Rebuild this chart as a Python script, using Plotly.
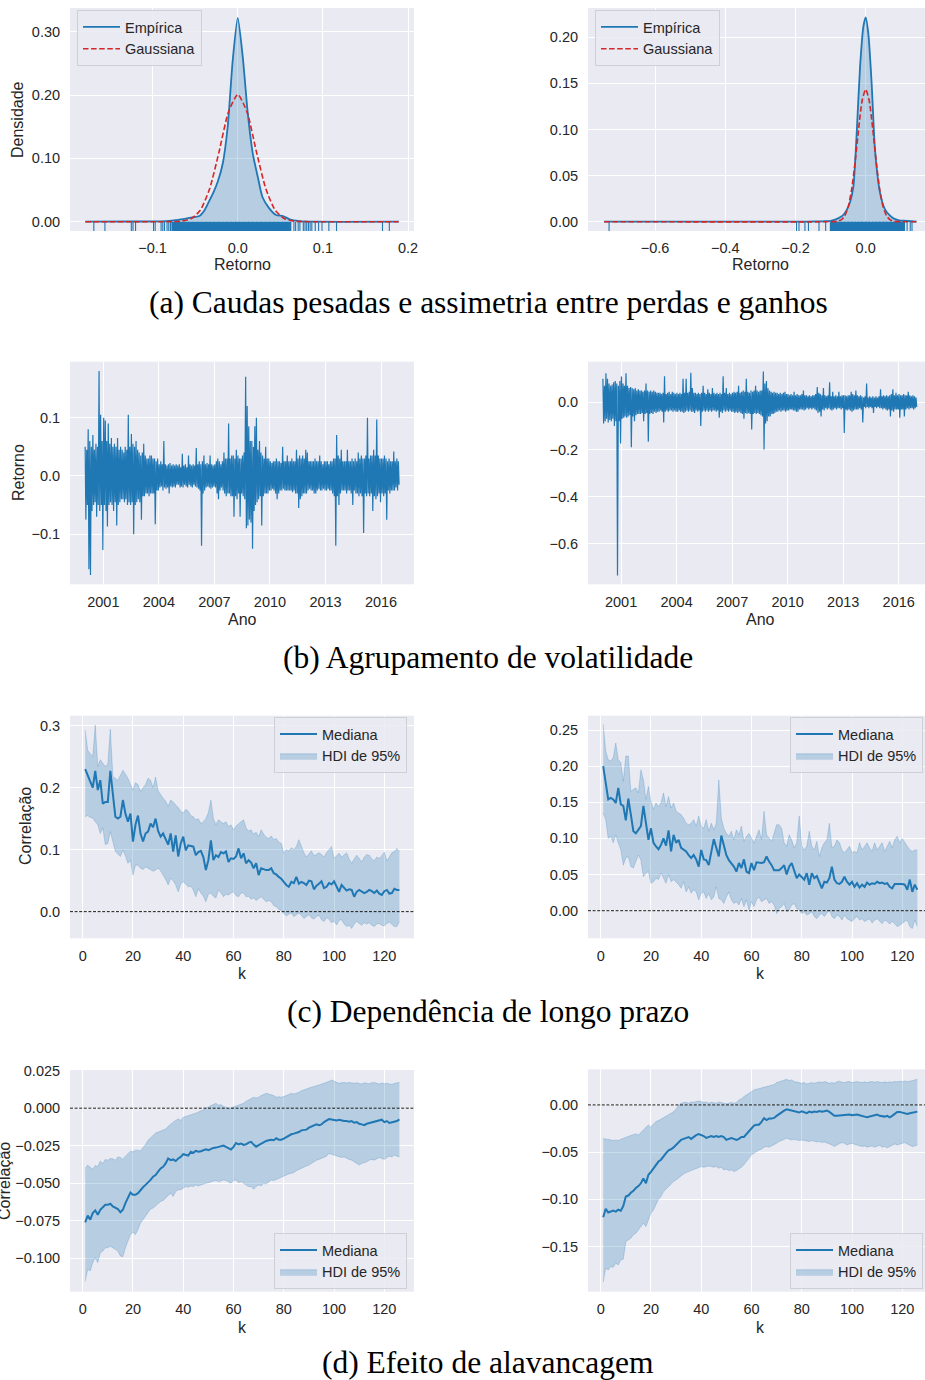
import plotly.graph_objects as go

# ---------------- (a) densities ----------------
kde_left_x = [-0.179, -0.12, -0.084, -0.07, -0.061, -0.053, -0.045, -0.039, -0.033, -0.028, -0.0235,
              -0.0176, -0.0118, -0.0059, 0.0, 0.0059, 0.0118, 0.0176, 0.0235, 0.029, 0.037, 0.045,
              0.053, 0.061, 0.0725, 0.09, 0.189]
kde_left_y = [0.0, 0.0003, 0.001, 0.003, 0.005, 0.007, 0.009, 0.018, 0.034, 0.048, 0.063,
              0.092, 0.150, 0.255, 0.322, 0.260, 0.171, 0.108, 0.071, 0.039, 0.021, 0.0105,
              0.009, 0.0037, 0.001, 0.0, 0.0]
gauss_left_x = [-0.179, -0.09, -0.077, -0.066, -0.055, -0.044, -0.033, -0.022, -0.011, 0.0,
                0.011, 0.022, 0.033, 0.044, 0.055, 0.066, 0.077, 0.09, 0.189]
gauss_left_y = [0.0, 0.0, 0.0001, 0.0009, 0.0046, 0.018, 0.052, 0.110, 0.173, 0.201,
                0.173, 0.110, 0.052, 0.018, 0.0046, 0.0009, 0.0001, 0.0, 0.0]
rug_left_core = [-0.075, -0.07, -0.065, -0.06, -0.055, -0.05, -0.045, -0.04, -0.035, -0.03, -0.025,
                 -0.02, -0.015, -0.01, -0.005, 0.0, 0.005, 0.01, 0.015, 0.02, 0.025, 0.03, 0.035,
                 0.04, 0.045, 0.05, 0.055, 0.06]
rug_left_tail = [-0.169, -0.156, -0.125, -0.123, -0.12, -0.099, -0.097, -0.09, -0.088, -0.086,
                 -0.083, -0.081, -0.079, 0.066, 0.068, 0.071, 0.073, 0.077, 0.079, 0.081, 0.083,
                 0.085, 0.087, 0.091, 0.095, 0.099, 0.107, 0.116, 0.17, 0.178]

kde_right_x = [-0.745, -0.2, -0.12, -0.1, -0.085, -0.073, -0.062, -0.054, -0.044, -0.035, -0.0256,
               -0.016, -0.0066, 0.0, 0.0076, 0.017, 0.0266, 0.041, 0.055, 0.068, 0.079, 0.095,
               0.107, 0.145]
kde_right_y = [0.0, 0.0, 0.0005, 0.001, 0.0025, 0.0047, 0.008, 0.0127, 0.022, 0.038, 0.096,
               0.168, 0.2116, 0.2217, 0.204, 0.150, 0.078, 0.031, 0.0134, 0.007, 0.0036, 0.0015,
               0.001, 0.0]
gauss_right_x = [-0.745, -0.1, -0.08, -0.07, -0.06, -0.05, -0.04, -0.03, -0.02, -0.01, 0.0,
                 0.01, 0.02, 0.03, 0.04, 0.05, 0.06, 0.07, 0.08, 0.1, 0.145]
gauss_right_y = [0.0, 0.0, 0.0005, 0.0019, 0.006, 0.0158, 0.035, 0.065, 0.101, 0.1315, 0.1436,
                 0.1315, 0.101, 0.065, 0.035, 0.0158, 0.006, 0.0019, 0.0005, 0.0, 0.0]
rug_right_core = [-0.095, -0.085, -0.075, -0.065, -0.055, -0.045, -0.035, -0.025, -0.015, -0.005,
                  0.005, 0.015, 0.025, 0.035, 0.045, 0.055, 0.065, 0.075, 0.085, 0.095, 0.105]
rug_right_tail = [-0.731, -0.197, -0.19, -0.173, -0.163, -0.133, -0.114, 0.118, 0.127, 0.132]

# ---------------- (b) returns: monthly high / low, 2000-01 .. 2016-12 ----------------
ret_left_hi = [
    0.05, 0.045, 0.08, 0.06, 0.05, 0.07, 0.045, 0.055, 0.05, 0.18, 0.105, 0.06,
    0.10, 0.095, 0.06, 0.09, 0.055, 0.065, 0.05, 0.055, 0.05, 0.065, 0.045, 0.05,
    0.045, 0.04, 0.05, 0.045, 0.105, 0.05, 0.072, 0.055, 0.05, 0.06, 0.045, 0.04,
    0.035, 0.04, 0.055, 0.035, 0.03, 0.03, 0.035, 0.035, 0.03, 0.03, 0.025, 0.03,
    0.02, 0.025, 0.02, 0.06, 0.02, 0.018, 0.02, 0.022, 0.018, 0.02, 0.018, 0.02,
    0.018, 0.02, 0.015, 0.038, 0.018, 0.02, 0.015, 0.035, 0.02, 0.018, 0.02, 0.018,
    0.048, 0.02, 0.025, 0.02, 0.025, 0.035, 0.02, 0.022, 0.02, 0.035, 0.02, 0.018,
    0.02, 0.025, 0.03, 0.025, 0.02, 0.025, 0.04, 0.03, 0.03, 0.09, 0.03, 0.035,
    0.035, 0.03, 0.045, 0.035, 0.03, 0.03, 0.035, 0.04, 0.17, 0.12, 0.085, 0.06,
    0.06, 0.05, 0.085, 0.10, 0.045, 0.06, 0.04, 0.035, 0.03, 0.05, 0.03, 0.03,
    0.025, 0.022, 0.025, 0.025, 0.03, 0.025, 0.025, 0.022, 0.05, 0.025, 0.025, 0.035,
    0.025, 0.025, 0.03, 0.025, 0.025, 0.045, 0.03, 0.035, 0.03, 0.035, 0.03, 0.045,
    0.04, 0.025, 0.025, 0.025, 0.025, 0.03, 0.025, 0.025, 0.035, 0.025, 0.02, 0.025,
    0.025, 0.025, 0.02, 0.025, 0.025, 0.03, 0.03, 0.07, 0.035, 0.03, 0.045, 0.025,
    0.025, 0.025, 0.045, 0.025, 0.025, 0.03, 0.025, 0.03, 0.025, 0.04, 0.03, 0.035,
    0.03, 0.03, 0.035, 0.10, 0.03, 0.035, 0.035, 0.045, 0.035, 0.097, 0.035, 0.03,
    0.03, 0.03, 0.035, 0.03, 0.025, 0.03, 0.025, 0.025, 0.042, 0.025, 0.03, 0.025,
]
ret_left_lo = [
    -0.075, -0.05, -0.16, -0.17, -0.06, -0.05, -0.045, -0.07, -0.05, -0.06, -0.05, -0.127,
    -0.05, -0.06, -0.087, -0.05, -0.045, -0.05, -0.06, -0.045, -0.085, -0.05, -0.045, -0.04,
    -0.04, -0.045, -0.04, -0.05, -0.045, -0.05, -0.045, -0.10, -0.05, -0.045, -0.04, -0.045,
    -0.075, -0.035, -0.035, -0.03, -0.03, -0.035, -0.03, -0.03, -0.03, -0.083, -0.025, -0.025,
    -0.02, -0.018, -0.025, -0.02, -0.022, -0.02, -0.03, -0.018, -0.02, -0.018, -0.02, -0.015,
    -0.015, -0.02, -0.018, -0.02, -0.015, -0.018, -0.02, -0.015, -0.018, -0.02, -0.015, -0.018,
    -0.02, -0.022, -0.025, -0.12, -0.03, -0.025, -0.02, -0.018, -0.02, -0.022, -0.02, -0.018,
    -0.02, -0.03, -0.04, -0.025, -0.02, -0.025, -0.03, -0.035, -0.03, -0.03, -0.035, -0.035,
    -0.07, -0.035, -0.04, -0.03, -0.07, -0.03, -0.035, -0.04, -0.09, -0.085, -0.075, -0.08,
    -0.125, -0.06, -0.05, -0.045, -0.04, -0.035, -0.085, -0.035, -0.03, -0.03, -0.03, -0.025,
    -0.025, -0.022, -0.025, -0.03, -0.04, -0.03, -0.025, -0.025, -0.022, -0.025, -0.025, -0.025,
    -0.025, -0.025, -0.028, -0.025, -0.03, -0.03, -0.055, -0.04, -0.035, -0.03, -0.03, -0.03,
    -0.025, -0.022, -0.025, -0.025, -0.03, -0.03, -0.025, -0.022, -0.025, -0.025, -0.022, -0.025,
    -0.025, -0.022, -0.025, -0.025, -0.03, -0.035, -0.12, -0.035, -0.05, -0.03, -0.025, -0.025,
    -0.025, -0.03, -0.025, -0.025, -0.03, -0.05, -0.025, -0.03, -0.03, -0.035, -0.03, -0.035,
    -0.098, -0.03, -0.035, -0.03, -0.035, -0.03, -0.06, -0.035, -0.04, -0.035, -0.03, -0.045,
    -0.03, -0.035, -0.03, -0.075, -0.025, -0.03, -0.025, -0.025, -0.025, -0.02, -0.025, -0.015,
]
ret_right_hi = [
    0.10, 0.07, 0.123, 0.10, 0.08, 0.07, 0.075, 0.085, 0.09, 0.08, 0.07, 0.09,
    0.109, 0.08, 0.07, 0.123, 0.07, 0.06, 0.065, 0.06, 0.055, 0.06, 0.05, 0.055,
    0.05, 0.05, 0.045, 0.05, 0.08, 0.05, 0.045, 0.05, 0.045, 0.05, 0.045, 0.04,
    0.04, 0.04, 0.035, 0.04, 0.11, 0.035, 0.04, 0.045, 0.035, 0.045, 0.04, 0.035,
    0.04, 0.035, 0.04, 0.035, 0.10, 0.04, 0.10, 0.04, 0.045, 0.125, 0.06, 0.04,
    0.04, 0.035, 0.04, 0.035, 0.04, 0.07, 0.04, 0.035, 0.055, 0.04, 0.035, 0.06,
    0.04, 0.035, 0.04, 0.035, 0.04, 0.035, 0.11, 0.04, 0.06, 0.035, 0.04, 0.035,
    0.04, 0.045, 0.04, 0.045, 0.07, 0.04, 0.045, 0.05, 0.045, 0.10, 0.045, 0.04,
    0.05, 0.045, 0.05, 0.07, 0.05, 0.045, 0.05, 0.05, 0.13, 0.08, 0.09, 0.06,
    0.05, 0.045, 0.04, 0.045, 0.04, 0.04, 0.035, 0.04, 0.035, 0.04, 0.045, 0.035,
    0.035, 0.03, 0.035, 0.03, 0.045, 0.03, 0.035, 0.03, 0.03, 0.035, 0.05, 0.03,
    0.03, 0.025, 0.03, 0.025, 0.03, 0.03, 0.035, 0.065, 0.04, 0.035, 0.03, 0.06,
    0.03, 0.025, 0.03, 0.085, 0.025, 0.045, 0.025, 0.03, 0.025, 0.045, 0.025, 0.03,
    0.03, 0.03, 0.025, 0.03, 0.03, 0.045, 0.035, 0.03, 0.05, 0.03, 0.025, 0.03,
    0.025, 0.02, 0.025, 0.08, 0.02, 0.025, 0.02, 0.025, 0.02, 0.025, 0.02, 0.025,
    0.055, 0.025, 0.03, 0.025, 0.03, 0.025, 0.03, 0.035, 0.055, 0.03, 0.04, 0.03,
    0.035, 0.03, 0.03, 0.035, 0.03, 0.03, 0.045, 0.03, 0.025, 0.03, 0.025, 0.02,
]
ret_right_lo = [
    -0.09, -0.08, -0.07, -0.085, -0.075, -0.08, -0.07, -0.10, -0.08, -0.734, -0.08, -0.174,
    -0.07, -0.065, -0.06, -0.065, -0.06, -0.055, -0.19, -0.06, -0.08, -0.055, -0.05, -0.05,
    -0.05, -0.045, -0.08, -0.05, -0.045, -0.167, -0.05, -0.045, -0.05, -0.04, -0.045, -0.04,
    -0.04, -0.035, -0.04, -0.085, -0.04, -0.035, -0.04, -0.035, -0.035, -0.04, -0.035, -0.04,
    -0.04, -0.035, -0.04, -0.04, -0.045, -0.04, -0.035, -0.04, -0.035, -0.04, -0.04, -0.045,
    -0.035, -0.04, -0.035, -0.10, -0.04, -0.035, -0.04, -0.035, -0.04, -0.035, -0.04, -0.035,
    -0.035, -0.04, -0.035, -0.065, -0.04, -0.045, -0.035, -0.04, -0.035, -0.04, -0.035, -0.04,
    -0.04, -0.045, -0.04, -0.045, -0.04, -0.045, -0.05, -0.07, -0.045, -0.05, -0.045, -0.05,
    -0.115, -0.05, -0.045, -0.05, -0.045, -0.05, -0.055, -0.06, -0.20, -0.09, -0.08, -0.06,
    -0.06, -0.05, -0.05, -0.045, -0.04, -0.04, -0.035, -0.04, -0.035, -0.035, -0.04, -0.035,
    -0.035, -0.03, -0.03, -0.035, -0.035, -0.04, -0.04, -0.03, -0.03, -0.03, -0.035, -0.03,
    -0.025, -0.03, -0.025, -0.03, -0.025, -0.03, -0.035, -0.045, -0.04, -0.06, -0.03, -0.035,
    -0.025, -0.03, -0.025, -0.03, -0.035, -0.03, -0.025, -0.03, -0.025, -0.025, -0.03, -0.025,
    -0.13, -0.03, -0.035, -0.03, -0.035, -0.04, -0.035, -0.03, -0.03, -0.03, -0.025, -0.03,
    -0.085, -0.02, -0.025, -0.02, -0.025, -0.02, -0.025, -0.045, -0.02, -0.025, -0.02, -0.025,
    -0.025, -0.03, -0.025, -0.03, -0.035, -0.03, -0.06, -0.035, -0.04, -0.03, -0.03, -0.03,
    -0.065, -0.03, -0.03, -0.06, -0.03, -0.025, -0.03, -0.025, -0.025, -0.03, -0.025, -0.02,
]
first_year = 2000

# ---------------- (c) long-range dependence, k = 1..126 ----------------
lags = list(range(1, 127))
c_left_med = [0.230, 0.220, 0.208, 0.200, 0.227, 0.196, 0.212, 0.174, 0.177, 0.177, 0.227, 0.185, 0.153, 0.150, 0.153, 0.180, 0.158, 0.145, 0.158, 0.113,
              0.140, 0.155, 0.126, 0.113, 0.126, 0.129, 0.142, 0.136, 0.150, 0.130, 0.121, 0.126, 0.116, 0.108, 0.126, 0.097, 0.123, 0.089, 0.110, 0.121,
              0.099, 0.107, 0.106, 0.105, 0.091, 0.096, 0.098, 0.088, 0.067, 0.083, 0.115, 0.083, 0.091, 0.088, 0.096, 0.094, 0.097, 0.080, 0.086, 0.085,
              0.089, 0.102, 0.086, 0.094, 0.078, 0.083, 0.079, 0.070, 0.078, 0.059, 0.070, 0.068, 0.067, 0.067, 0.070, 0.062, 0.060, 0.056, 0.053, 0.048,
              0.043, 0.040, 0.048, 0.046, 0.056, 0.045, 0.048, 0.046, 0.043, 0.050, 0.049, 0.036, 0.042, 0.045, 0.049, 0.038, 0.040, 0.046, 0.044, 0.049,
              0.040, 0.032, 0.043, 0.038, 0.034, 0.036, 0.035, 0.024, 0.032, 0.035, 0.033, 0.030, 0.032, 0.035, 0.033, 0.030, 0.034, 0.029, 0.027, 0.033,
              0.035, 0.029, 0.030, 0.037, 0.035, 0.035]
c_left_hi = [0.293, 0.260, 0.255, 0.250, 0.301, 0.234, 0.245, 0.240, 0.234, 0.238, 0.294, 0.218, 0.215, 0.212, 0.220, 0.228, 0.222, 0.215, 0.205, 0.196,
             0.208, 0.205, 0.194, 0.200, 0.205, 0.215, 0.212, 0.200, 0.217, 0.195, 0.188, 0.183, 0.178, 0.170, 0.180, 0.177, 0.172, 0.168, 0.162, 0.159,
             0.165, 0.162, 0.155, 0.153, 0.148, 0.150, 0.142, 0.145, 0.150, 0.160, 0.180, 0.150, 0.140, 0.148, 0.145, 0.142, 0.145, 0.137, 0.140, 0.132,
             0.138, 0.142, 0.145, 0.148, 0.135, 0.130, 0.132, 0.125, 0.128, 0.121, 0.132, 0.125, 0.120, 0.118, 0.122, 0.116, 0.118, 0.112, 0.110, 0.094,
             0.100, 0.098, 0.103, 0.100, 0.105, 0.116, 0.105, 0.095, 0.088, 0.094, 0.098, 0.090, 0.092, 0.095, 0.092, 0.088, 0.095, 0.100, 0.105, 0.086,
             0.090, 0.094, 0.088, 0.092, 0.095, 0.085, 0.078, 0.085, 0.091, 0.086, 0.080, 0.088, 0.092, 0.091, 0.085, 0.082, 0.088, 0.086, 0.090, 0.096,
             0.082, 0.088, 0.095, 0.097, 0.102, 0.097]
c_left_lo = [0.153, 0.155, 0.152, 0.151, 0.145, 0.140, 0.126, 0.135, 0.108, 0.110, 0.129, 0.115, 0.097, 0.093, 0.089, 0.099, 0.090, 0.078, 0.083, 0.059,
             0.075, 0.075, 0.070, 0.068, 0.072, 0.070, 0.068, 0.065, 0.067, 0.070, 0.066, 0.060, 0.052, 0.043, 0.054, 0.050, 0.043, 0.032, 0.045, 0.048,
             0.044, 0.040, 0.041, 0.035, 0.024, 0.037, 0.030, 0.025, 0.016, 0.028, 0.030, 0.025, 0.022, 0.035, 0.030, 0.024, 0.028, 0.027, 0.030, 0.032,
             0.026, 0.024, 0.030, 0.030, 0.024, 0.025, 0.020, 0.022, 0.018, 0.021, 0.024, 0.020, 0.016, 0.018, 0.016, 0.010, 0.008, 0.004, 0.002, -0.003,
             -0.007, -0.004, -0.002, -0.008, -0.005, -0.002, -0.006, -0.011, -0.008, -0.005, -0.010, -0.012, -0.008, -0.006, -0.013, -0.016, -0.010, -0.012, -0.018, -0.015,
             -0.0215, -0.014, -0.013, -0.020, -0.024, -0.022, -0.027, -0.020, -0.016, -0.019, -0.022, -0.018, -0.020, -0.018, -0.022, -0.024, -0.020, -0.019, -0.022, -0.023,
             -0.019, -0.017, -0.021, -0.024, -0.024, -0.016]
c_right_med = [0.200, 0.177, 0.154, 0.156, 0.154, 0.149, 0.170, 0.147, 0.145, 0.125, 0.155, 0.133, 0.110, 0.107, 0.112, 0.117, 0.145, 0.121, 0.098, 0.114,
               0.094, 0.089, 0.085, 0.091, 0.100, 0.090, 0.111, 0.082, 0.105, 0.094, 0.098, 0.087, 0.084, 0.082, 0.077, 0.073, 0.077, 0.071, 0.061, 0.084,
               0.071, 0.070, 0.063, 0.082, 0.099, 0.087, 0.075, 0.104, 0.089, 0.077, 0.070, 0.066, 0.061, 0.054, 0.066, 0.059, 0.071, 0.054, 0.052, 0.066,
               0.056, 0.067, 0.066, 0.066, 0.067, 0.075, 0.068, 0.063, 0.056, 0.056, 0.056, 0.059, 0.063, 0.050, 0.061, 0.066, 0.056, 0.045, 0.050, 0.047,
               0.043, 0.052, 0.036, 0.052, 0.045, 0.048, 0.038, 0.031, 0.040, 0.039, 0.045, 0.061, 0.043, 0.038, 0.037, 0.040, 0.047, 0.040, 0.036, 0.040,
               0.033, 0.038, 0.032, 0.036, 0.033, 0.039, 0.036, 0.038, 0.037, 0.040, 0.038, 0.039, 0.037, 0.038, 0.033, 0.031, 0.037, 0.037, 0.038, 0.037,
               0.036, 0.029, 0.043, 0.026, 0.036, 0.029]
c_right_hi = [0.258, 0.221, 0.209, 0.207, 0.212, 0.232, 0.209, 0.205, 0.179, 0.214, 0.214, 0.165, 0.168, 0.170, 0.163, 0.195, 0.181, 0.154, 0.172, 0.151,
              0.140, 0.149, 0.144, 0.149, 0.163, 0.144, 0.158, 0.142, 0.149, 0.138, 0.135, 0.133, 0.128, 0.121, 0.119, 0.121, 0.126, 0.117, 0.131, 0.117,
              0.114, 0.126, 0.110, 0.121, 0.112, 0.121, 0.181, 0.128, 0.114, 0.107, 0.103, 0.110, 0.098, 0.112, 0.105, 0.117, 0.096, 0.103, 0.107, 0.100,
              0.094, 0.103, 0.112, 0.098, 0.1375, 0.105, 0.100, 0.096, 0.107, 0.119, 0.119, 0.114, 0.094, 0.089, 0.105, 0.098, 0.087, 0.094, 0.131, 0.089,
              0.084, 0.089, 0.110, 0.089, 0.084, 0.096, 0.075, 0.087, 0.094, 0.098, 0.121, 0.087, 0.089, 0.098, 0.094, 0.084, 0.080, 0.084, 0.089, 0.080,
              0.082, 0.080, 0.094, 0.084, 0.089, 0.094, 0.087, 0.082, 0.094, 0.084, 0.089, 0.094, 0.082, 0.089, 0.096, 0.087, 0.098, 0.103, 0.094, 0.100,
              0.094, 0.089, 0.084, 0.082, 0.084, 0.084]
c_right_lo = [0.135, 0.126, 0.100, 0.103, 0.094, 0.105, 0.094, 0.084, 0.063, 0.073, 0.075, 0.061, 0.059, 0.068, 0.077, 0.070, 0.047, 0.052, 0.054, 0.038,
              0.040, 0.045, 0.043, 0.052, 0.045, 0.038, 0.050, 0.040, 0.043, 0.040, 0.036, 0.031, 0.040, 0.026, 0.033, 0.024, 0.029, 0.026, 0.015, 0.024,
              0.026, 0.017, 0.024, 0.015, 0.019, 0.033, 0.017, 0.015, 0.010, 0.019, 0.026, 0.015, 0.010, 0.0125, 0.008, 0.017, 0.0056, 0.015, 0.001, 0.0125,
              0.0056, 0.015, 0.019, 0.0125, 0.015, 0.017, 0.010, 0.0125, 0.008, -0.004, 0.003, 0.0056, 0.010, -0.0014, 0.001, 0.008, 0.010, 0.003, 0.001, -0.004,
              -0.0014, -0.006, -0.004, -0.0014, -0.008, -0.011, -0.006, -0.004, -0.008, -0.004, 0.001, -0.008, -0.011, -0.006, -0.008, -0.013, -0.006, -0.011, -0.013, -0.015,
              -0.011, -0.008, -0.013, -0.011, -0.015, -0.013, -0.011, -0.017, -0.013, -0.011, -0.015, -0.018, -0.013, -0.015, -0.0185, -0.015, -0.018, -0.022, -0.020, -0.017,
              -0.015, -0.013, -0.022, -0.0245, -0.013, -0.022]

# ---------------- (d) leverage effect, k = 1..126 ----------------
d_left_med = [-0.0762, -0.0717, -0.0744, -0.0700, -0.0682, -0.0711, -0.0678, -0.0662, -0.0645, -0.0645, -0.0638, -0.0656, -0.0667, -0.0673, -0.0695, -0.0678, -0.0634, -0.0600, -0.0563, -0.0578,
              -0.0578, -0.0567, -0.0545, -0.0528, -0.0512, -0.0497, -0.0479, -0.0457, -0.0446, -0.0424, -0.0402, -0.0391, -0.0369, -0.0336, -0.0347, -0.0342, -0.0353, -0.0336, -0.0325, -0.0307,
              -0.0313, -0.0316, -0.0291, -0.0298, -0.0285, -0.0291, -0.0287, -0.0280, -0.0274, -0.0280, -0.0272, -0.0265, -0.0263, -0.0258, -0.0258, -0.0249, -0.0258, -0.0269, -0.0276, -0.0258,
              -0.0232, -0.0241, -0.0236, -0.0245, -0.0241, -0.0230, -0.0225, -0.0243, -0.0258, -0.0247, -0.0236, -0.0225, -0.0219, -0.0214, -0.0210, -0.0214, -0.0201, -0.0210, -0.0210, -0.0203,
              -0.0192, -0.0181, -0.0174, -0.0170, -0.0166, -0.0159, -0.0148, -0.0148, -0.0143, -0.0130, -0.0121, -0.0113, -0.0108, -0.0113, -0.0108, -0.0093, -0.0082, -0.0073, -0.0075, -0.0077,
              -0.0082, -0.0077, -0.0082, -0.0086, -0.0086, -0.0091, -0.0086, -0.0097, -0.0093, -0.0104, -0.0108, -0.0113, -0.0104, -0.0099, -0.0095, -0.0091, -0.0086, -0.0082, -0.0077, -0.0093,
              -0.0086, -0.0099, -0.0095, -0.0093, -0.0086, -0.0075]
d_left_hi = [-0.0402, -0.0380, -0.0395, -0.0408, -0.0382, -0.0391, -0.0353, -0.0369, -0.0342, -0.0347, -0.0336, -0.0338, -0.0347, -0.0325, -0.0329, -0.0342, -0.0320, -0.0302, -0.0287, -0.0291,
             -0.0280, -0.0280, -0.0285, -0.0263, -0.0243, -0.0214, -0.0196, -0.0181, -0.0166, -0.0159, -0.0152, -0.0148, -0.0139, -0.0121, -0.0104, -0.0093, -0.0082, -0.0071, -0.0082, -0.0060,
             -0.0055, -0.0051, -0.0042, -0.0038, -0.0033, -0.0026, -0.0020, -0.0011, 0.0002, 0.0007, 0.0018, 0.0024, 0.0033, 0.0020, 0.0024, 0.0011, 0.0007, -0.0004, 0.0002, 0.0007,
             0.0018, 0.0024, 0.0029, 0.0033, 0.0046, 0.0055, 0.0062, 0.0073, 0.0068, 0.0073, 0.0084, 0.0091, 0.0099, 0.0095, 0.0091, 0.0084, 0.0073, 0.0077, 0.0073, 0.0077,
             0.0084, 0.0091, 0.0099, 0.0095, 0.0099, 0.0106, 0.0117, 0.0121, 0.0128, 0.0135, 0.0139, 0.0143, 0.0150, 0.0155, 0.0161, 0.0166, 0.0172, 0.0179, 0.0188, 0.0179,
             0.0172, 0.0166, 0.0170, 0.0172, 0.0168, 0.0172, 0.0170, 0.0166, 0.0170, 0.0168, 0.0161, 0.0170, 0.0168, 0.0163, 0.0170, 0.0172, 0.0166, 0.0161, 0.0168, 0.0163,
             0.0166, 0.0161, 0.0159, 0.0166, 0.0168, 0.0172]
d_left_lo = [-0.1157, -0.1075, -0.1086, -0.1031, -0.0998, -0.1031, -0.0965, -0.0954, -0.0932, -0.0932, -0.0921, -0.0932, -0.0943, -0.0954, -0.0987, -0.0991, -0.0932, -0.0887, -0.0843, -0.0828,
             -0.0843, -0.0810, -0.0766, -0.0744, -0.0722, -0.0700, -0.0673, -0.0667, -0.0651, -0.0634, -0.0623, -0.0616, -0.0600, -0.0585, -0.0567, -0.0589, -0.0556, -0.0545, -0.0545, -0.0534,
             -0.0523, -0.0528, -0.0519, -0.0523, -0.0512, -0.0519, -0.0512, -0.0506, -0.0501, -0.0497, -0.0490, -0.0486, -0.0483, -0.0490, -0.0486, -0.0479, -0.0483, -0.0490, -0.0501, -0.0483,
             -0.0479, -0.0497, -0.0490, -0.0501, -0.0512, -0.0523, -0.0523, -0.0541, -0.0523, -0.0512, -0.0519, -0.0501, -0.0506, -0.0490, -0.0479, -0.0483, -0.0475, -0.0468, -0.0461, -0.0453,
             -0.0446, -0.0439, -0.0435, -0.0430, -0.0417, -0.0408, -0.0402, -0.0395, -0.0386, -0.0380, -0.0369, -0.0358, -0.0347, -0.0342, -0.0336, -0.0329, -0.0320, -0.0302, -0.0307, -0.0313,
             -0.0320, -0.0325, -0.0329, -0.0325, -0.0336, -0.0342, -0.0347, -0.0358, -0.0369, -0.0380, -0.0369, -0.0364, -0.0358, -0.0347, -0.0342, -0.0347, -0.0336, -0.0329, -0.0336, -0.0342,
             -0.0329, -0.0320, -0.0325, -0.0313, -0.0320, -0.0325]
d_right_med = [-0.119, -0.110, -0.114, -0.113, -0.112, -0.113, -0.111, -0.112, -0.107, -0.097, -0.096, -0.093, -0.091, -0.088, -0.086, -0.083, -0.078, -0.083, -0.074, -0.071,
               -0.067, -0.064, -0.060, -0.058, -0.054, -0.051, -0.048, -0.047, -0.045, -0.042, -0.039, -0.037, -0.036, -0.035, -0.034, -0.036, -0.034, -0.032, -0.031, -0.032,
               -0.033, -0.035, -0.034, -0.033, -0.034, -0.033, -0.034, -0.033, -0.034, -0.037, -0.036, -0.035, -0.036, -0.037, -0.036, -0.034, -0.034, -0.031, -0.028, -0.026,
               -0.022, -0.021, -0.021, -0.018, -0.014, -0.016, -0.0145, -0.0145, -0.0138, -0.0116, -0.0095, -0.0074, -0.0060, -0.0046, -0.0053, -0.0060, -0.0067, -0.0074, -0.0081, -0.0067,
               -0.0074, -0.0088, -0.0071, -0.0081, -0.0071, -0.0074, -0.0064, -0.0071, -0.0067, -0.0060, -0.0074, -0.0095, -0.0116, -0.0116, -0.0113, -0.0116, -0.0106, -0.0109, -0.0102, -0.0109,
               -0.0106, -0.0102, -0.0109, -0.0113, -0.0124, -0.0131, -0.0124, -0.0116, -0.0109, -0.0102, -0.0116, -0.0124, -0.0124, -0.0116, -0.0131, -0.0116, -0.0095, -0.0074, -0.0074, -0.0081,
               -0.0088, -0.0095, -0.0088, -0.0081, -0.0081, -0.0071]
d_right_hi = [-0.0353, -0.0364, -0.0364, -0.0371, -0.0378, -0.0371, -0.0378, -0.0364, -0.0353, -0.0349, -0.0335, -0.0328, -0.0314, -0.0307, -0.0318, -0.0293, -0.0258, -0.0236, -0.0212, -0.0236,
              -0.0201, -0.0176, -0.0166, -0.0152, -0.0131, -0.0116, -0.0106, -0.0088, -0.0071, -0.0046, 0.0000, 0.0018, 0.0025, 0.0028, 0.0018, 0.0032, 0.0028, 0.0035, 0.0042, 0.0035,
              0.0025, 0.0032, 0.0018, 0.0028, 0.0025, 0.0018, 0.0032, 0.0028, 0.0018, 0.0011, 0.0018, 0.0025, 0.0018, 0.0025, 0.0053, 0.0064, 0.0088, 0.0106, 0.0131, 0.0145,
              0.0159, 0.0166, 0.0173, 0.0176, 0.0187, 0.0194, 0.0201, 0.0205, 0.0215, 0.0236, 0.0247, 0.0258, 0.0265, 0.0272, 0.0258, 0.0265, 0.0247, 0.0244, 0.0236, 0.0229,
              0.0236, 0.0222, 0.0229, 0.0236, 0.0229, 0.0236, 0.0244, 0.0236, 0.0247, 0.0240, 0.0229, 0.0236, 0.0229, 0.0244, 0.0251, 0.0240, 0.0236, 0.0244, 0.0247, 0.0236,
              0.0244, 0.0247, 0.0240, 0.0236, 0.0244, 0.0236, 0.0244, 0.0247, 0.0240, 0.0247, 0.0240, 0.0236, 0.0244, 0.0236, 0.0244, 0.0240, 0.0247, 0.0244, 0.0251, 0.0247,
              0.0254, 0.0247, 0.0251, 0.0258, 0.0265, 0.0272]
d_right_lo = [-0.1878, -0.1730, -0.1747, -0.1712, -0.1719, -0.1677, -0.1694, -0.1641, -0.1634, -0.1447, -0.1430, -0.1412, -0.1377, -0.1359, -0.1324, -0.1288, -0.1253, -0.1288, -0.1218, -0.1147,
              -0.1112, -0.1048, -0.0999, -0.0971, -0.0918, -0.0893, -0.0865, -0.0837, -0.0812, -0.0794, -0.0770, -0.0752, -0.0731, -0.0717, -0.0706, -0.0695, -0.0681, -0.0671, -0.0660, -0.0653,
              -0.0660, -0.0653, -0.0646, -0.0653, -0.0660, -0.0653, -0.0671, -0.0660, -0.0688, -0.0681, -0.0695, -0.0688, -0.0706, -0.0695, -0.0681, -0.0660, -0.0635, -0.0600, -0.0565, -0.0529,
              -0.0512, -0.0494, -0.0477, -0.0469, -0.0448, -0.0441, -0.0448, -0.0434, -0.0424, -0.0406, -0.0388, -0.0378, -0.0364, -0.0353, -0.0364, -0.0371, -0.0364, -0.0371, -0.0378, -0.0371,
              -0.0378, -0.0385, -0.0388, -0.0378, -0.0385, -0.0392, -0.0388, -0.0399, -0.0392, -0.0399, -0.0413, -0.0424, -0.0441, -0.0424, -0.0413, -0.0399, -0.0406, -0.0424, -0.0413, -0.0406,
              -0.0417, -0.0424, -0.0434, -0.0441, -0.0434, -0.0448, -0.0441, -0.0434, -0.0448, -0.0441, -0.0427, -0.0448, -0.0441, -0.0455, -0.0441, -0.0427, -0.0413, -0.0424, -0.0413, -0.0406,
              -0.0399, -0.0413, -0.0424, -0.0441, -0.0434, -0.0424]

# ---------------- axes: ranges and ticks ----------------
a_left_xr, a_left_yr = [-0.197, 0.207], [-0.0147, 0.3376]
a_left_xt, a_left_xl = [-0.1, 0.0, 0.1, 0.2], ["\u22120.1", "0.0", "0.1", "0.2"]
a_left_yt, a_left_yl = [0.0, 0.1, 0.2, 0.3], ["0.00", "0.10", "0.20", "0.30"]
a_right_xr, a_right_yr = [-0.791, 0.169], [-0.0101, 0.2318]
a_right_xt, a_right_xl = [-0.6, -0.4, -0.2, 0.0], ["\u22120.6", "\u22120.4", "\u22120.2", "0.0"]
a_right_yt, a_right_yl = [0.0, 0.05, 0.10, 0.15, 0.20], ["0.00", "0.05", "0.10", "0.15", "0.20"]
year_ticks = ["2001-01-01", "2004-01-01", "2007-01-01", "2010-01-01", "2013-01-01", "2016-01-01"]
year_labels = ["2001", "2004", "2007", "2010", "2013", "2016"]
b_left_xr, b_left_yr = ["1999-03-15", "2017-10-12"], [-0.186, 0.196]
b_left_yt, b_left_yl = [-0.1, 0.0, 0.1], ["\u22120.1", "0.0", "0.1"]
b_right_xr, b_right_yr = ["1999-03-20", "2017-06-03"], [-0.771, 0.172]
b_right_yt, b_right_yl = [-0.6, -0.4, -0.2, 0.0], ["\u22120.6", "\u22120.4", "\u22120.2", "0.0"]
k_ticks = [0, 20, 40, 60, 80, 100, 120]
k_labels = ["0", "20", "40", "60", "80", "100", "120"]
c_left_xr, c_left_yr = [-5.05, 131.8], [-0.043, 0.316]
c_left_yt, c_left_yl = [0.0, 0.1, 0.2, 0.3], ["0.0", "0.1", "0.2", "0.3"]
c_right_xr, c_right_yr = [-5.05, 129.05], [-0.0382, 0.2698]
c_right_yt, c_right_yl = [0.0, 0.05, 0.10, 0.15, 0.20, 0.25], ["0.00", "0.05", "0.10", "0.15", "0.20", "0.25"]
d_left_xr, d_left_yr = [-5.05, 131.8], [-0.1225, 0.0255]
d_left_yt = [-0.1, -0.075, -0.05, -0.025, 0.0, 0.025]
d_left_yl = ["\u22120.100", "\u22120.075", "\u22120.050", "\u22120.025", "0.000", "0.025"]
d_right_xr, d_right_yr = [-5.05, 129.05], [-0.1978, 0.0377]
d_right_yt, d_right_yl = [-0.15, -0.10, -0.05, 0.0], ["\u22120.15", "\u22120.10", "\u22120.05", "0.00"]

# ---------------- style ----------------
SANS = "Liberation Sans, Arial, Helvetica, sans-serif"
SERIF = "Liberation Serif, Times New Roman, serif"
BLUE = "#1f77b4"
RED = "#d62728"
FILL = "rgba(31,119,180,0.25)"
EDGE = "rgba(31,119,180,0.22)"
BG = "#EAEAF2"
TXT = "#262626"
W, H = 925, 1380


def fxp(p):
    return p / W


def fyp(p):
    return 1 - p / H


fig = go.Figure()
layout_axes = {}


def add_axes(n, left, right, top, bottom, xr, yr, xt, xl, yt, yl, xtype="linear"):
    s = "" if n == 1 else str(n)
    common = dict(showgrid=True, gridcolor="white", gridwidth=1.3, zeroline=False, showline=False,
                  ticks="outside", tickcolor="rgba(0,0,0,0)", automargin=False,
                  tickfont=dict(family=SANS, size=14.5, color=TXT), fixedrange=True, tickmode="array")
    layout_axes["xaxis" + s] = dict(domain=[fxp(left), min(1.0, fxp(right))], range=xr, tickvals=xt,
                                    ticktext=xl, anchor="y" + s, type=xtype, ticklen=4, **common)
    layout_axes["yaxis" + s] = dict(domain=[fyp(bottom), fyp(top)], range=yr, tickvals=yt,
                                    ticktext=yl, anchor="x" + s, ticklen=6, **common)


add_axes(1, 70, 414, 8, 231, a_left_xr, a_left_yr, a_left_xt, a_left_xl, a_left_yt, a_left_yl)
add_axes(2, 588, 925, 8, 231, a_right_xr, a_right_yr, a_right_xt, a_right_xl, a_right_yt, a_right_yl)
add_axes(3, 70, 414, 361.7, 584.3, b_left_xr, b_left_yr, year_ticks, year_labels, b_left_yt, b_left_yl, "date")
add_axes(4, 588, 925, 361.7, 584.3, b_right_xr, b_right_yr, year_ticks, year_labels, b_right_yt, b_right_yl, "date")
add_axes(5, 70, 414, 715.7, 938.3, c_left_xr, c_left_yr, k_ticks, k_labels, c_left_yt, c_left_yl)
add_axes(6, 588, 925, 715.7, 938.3, c_right_xr, c_right_yr, k_ticks, k_labels, c_right_yt, c_right_yl)
add_axes(7, 70, 414, 1070, 1291.7, d_left_xr, d_left_yr, k_ticks, k_labels, d_left_yt, d_left_yl)
add_axes(8, 588, 925, 1069.3, 1291.7, d_right_xr, d_right_yr, k_ticks, k_labels, d_right_yt, d_right_yl)


def rug(xs, ybot, n, width):
    px, py = [], []
    for v in xs:
        px += [v, v, None]
        py += [ybot, 0.0, None]
    s = "" if n == 1 else str(n)
    fig.add_trace(go.Scatter(x=px, y=py, mode="lines", line=dict(color=BLUE, width=width),
                             xaxis="x" + s, yaxis="y" + s, showlegend=False, hoverinfo="skip"))


def density_panel(n, kx, ky, gx, gy, core, tail, ybot, core_w, leg):
    s = "" if n == 1 else str(n)
    fig.add_trace(go.Scatter(x=kx, y=ky, mode="lines", fill="tozeroy", fillcolor=FILL,
                             line=dict(width=0, shape="spline", smoothing=0.6),
                             xaxis="x" + s, yaxis="y" + s, showlegend=False, hoverinfo="skip"))
    rug(core, ybot, n, core_w)
    rug(tail, ybot, n, 1.1)
    fig.add_trace(go.Scatter(x=kx, y=ky, mode="lines", name="Empírica",
                             line=dict(color=BLUE, width=1.8, shape="spline", smoothing=0.6),
                             xaxis="x" + s, yaxis="y" + s, legend=leg, legendrank=1))
    fig.add_trace(go.Scatter(x=gx, y=gy, mode="lines", name="Gaussiana",
                             line=dict(color=RED, width=1.6, dash="5.5px,2.6px", shape="spline", smoothing=0.6),
                             xaxis="x" + s, yaxis="y" + s, legend=leg, legendrank=2))


density_panel(1, kde_left_x, kde_left_y, gauss_left_x, gauss_left_y, rug_left_core, rug_left_tail,
              a_left_yr[0], 5.0, "legend")
density_panel(2, kde_right_x, kde_right_y, gauss_right_x, gauss_right_y, rug_right_core, rug_right_tail,
              a_right_yr[0], 5.0, "legend2")


def zigzag(hi, lo):
    xs, ys = [], []
    for i, (h, l) in enumerate(zip(hi, lo)):
        yr = first_year + i // 12
        mo = i % 12 + 1
        xs += [f"{yr}-{mo:02d}-08", f"{yr}-{mo:02d}-22"]
        ys += [h, l]
    return xs, ys


for n, hi, lo in [(3, ret_left_hi, ret_left_lo), (4, ret_right_hi, ret_right_lo)]:
    zx, zy = zigzag(hi, lo)
    fig.add_trace(go.Scatter(x=zx, y=zy, mode="lines", line=dict(color=BLUE, width=1.2),
                             xaxis=f"x{n}", yaxis=f"y{n}", showlegend=False, hoverinfo="skip"))


def band_panel(n, med, hi, lo, leg):
    fig.add_trace(go.Scatter(x=lags, y=hi, mode="lines", line=dict(color=EDGE, width=1),
                             xaxis=f"x{n}", yaxis=f"y{n}", showlegend=False, hoverinfo="skip"))
    fig.add_trace(go.Scatter(x=lags, y=lo, mode="lines", fill="tonexty", fillcolor=FILL,
                             line=dict(color=EDGE, width=1), name="HDI de 95%",
                             xaxis=f"x{n}", yaxis=f"y{n}", legend=leg, legendrank=2))
    fig.add_trace(go.Scatter(x=lags, y=med, mode="lines", line=dict(color=BLUE, width=2),
                             name="Mediana", xaxis=f"x{n}", yaxis=f"y{n}", legend=leg, legendrank=1))


band_panel(5, c_left_med, c_left_hi, c_left_lo, "legend3")
band_panel(6, c_right_med, c_right_hi, c_right_lo, "legend4")
band_panel(7, d_left_med, d_left_hi, d_left_lo, "legend5")
band_panel(8, d_right_med, d_right_hi, d_right_lo, "legend6")

shapes = []
for n in [5, 6, 7, 8]:
    shapes.append(dict(type="line", xref=f"x{n} domain", x0=0, x1=1, yref=f"y{n}", y0=0, y1=0,
                       line=dict(color="black", width=0.9, dash="3px,1.6px"), layer="above"))


def legend_box(x, y, xa, ya):
    return dict(x=x, y=y, xanchor=xa, yanchor=ya, xref="paper", yref="paper",
                bgcolor="rgba(234,234,242,0.85)", bordercolor="#cfcfd6", borderwidth=1,
                font=dict(family=SANS, size=14.5, color=TXT), itemwidth=37, tracegroupgap=0,
                traceorder="normal")


legends = dict(
    legend=legend_box(fxp(77), fyp(10), "left", "top"),
    legend2=legend_box(fxp(595), fyp(10), "left", "top"),
    legend3=legend_box(fxp(407), fyp(717), "right", "top"),
    legend4=legend_box(fxp(923), fyp(717), "right", "top"),
    legend5=legend_box(fxp(407), fyp(1289), "right", "bottom"),
    legend6=legend_box(fxp(923), fyp(1289), "right", "bottom"),
)

annotations = []


def label(text, x, y, size=16, angle=0, family=SANS, color=TXT):
    annotations.append(dict(text=text, x=fxp(x), y=fyp(y), xref="paper", yref="paper",
                            showarrow=False, xanchor="center", yanchor="middle", textangle=angle,
                            font=dict(family=family, size=size, color=color)))


label("Retorno", 242, 265)
label("Retorno", 760, 265)
label("Densidade", 18, 120, angle=-90)
label("Ano", 242, 619)
label("Ano", 760, 619)
label("Retorno", 18, 473, angle=-90)
label("k", 242, 973)
label("k", 760, 973)
label("Correlação", 26, 826, angle=-90)
label("k", 242, 1327)
label("k", 760, 1327)
label("Correlação", 4, 1181, angle=-90)
CAP = 31.5
label("(a) Caudas pesadas e assimetria entre perdas e ganhos", 488, 303, size=CAP, family=SERIF, color="black")
label("(b) Agrupamento de volatilidade", 488, 657, size=CAP, family=SERIF, color="black")
label("(c) Dependência de longo prazo", 488, 1011, size=CAP, family=SERIF, color="black")
label("(d) Efeito de alavancagem", 488, 1362, size=CAP, family=SERIF, color="black")

fig.update_layout(width=W, height=H, margin=dict(l=0, r=0, t=0, b=0, pad=0, autoexpand=False),
                  autosize=False, paper_bgcolor="white", plot_bgcolor=BG, showlegend=True,
                  annotations=annotations, shapes=shapes, **layout_axes, **legends)

fig.write_html("out.html")
